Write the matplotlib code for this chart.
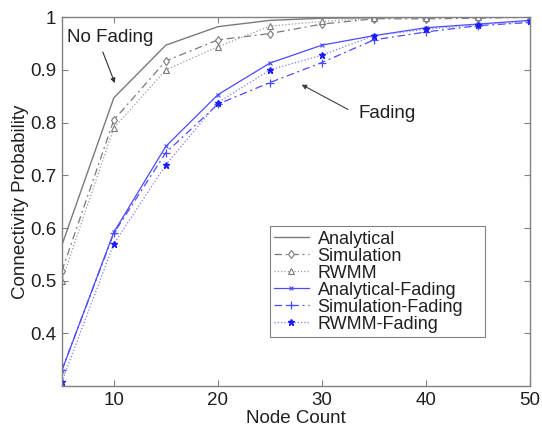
import matplotlib
matplotlib.use("Agg")
import matplotlib.pyplot as plt

node_count = [5, 10, 15, 20, 25, 30, 35, 40, 45, 50]
analytical = [0.567, 0.847, 0.947, 0.982, 0.994, 0.998, 0.999, 1.0, 1.0, 1.0]
simulation = [0.518, 0.805, 0.917, 0.957, 0.969, 0.987, 0.997, 0.997, 0.998, 1.0]
rwmm = [0.500, 0.790, 0.900, 0.944, 0.983, 0.992, 0.998, 0.999, 1.0, 1.0]
analytical_fading = [0.329, 0.592, 0.755, 0.853, 0.913, 0.947, 0.965, 0.980, 0.987, 0.994]
simulation_fading = [0.330, 0.590, 0.743, 0.835, 0.876, 0.914, 0.957, 0.972, 0.984, 0.990]
rwmm_fading = [0.308, 0.570, 0.720, 0.838, 0.900, 0.928, 0.965, 0.977, 0.986, 0.992]

x_ticks = [10, 20, 30, 40, 50]
y_ticks = [0.4, 0.5, 0.6, 0.7, 0.8, 0.9, 1.0]
y_tick_labels = ["0.4", "0.5", "0.6", "0.7", "0.8", "0.9", "1"]

plt.rcParams['font.family'] = ['Liberation Sans', 'DejaVu Sans']

fig = plt.figure(figsize=(5.42, 4.30), dpi=100)
ax = fig.add_axes([0.114, 0.102, 0.864, 0.858])

gray = '#7a7a7a'
lgray = '#9a9a9a'
blue = '#4a4aff'

ax.plot(node_count, analytical, '-', color=gray, lw=1.0, label='Analytical')
ax.plot(node_count, simulation, '-.', color=gray, lw=0.9, marker='d', ms=4.5,
        mfc='white', mec=gray, mew=0.8, dashes=(6, 3, 1.5, 3), label='Simulation')
ax.plot(node_count, rwmm, ':', color=lgray, lw=0.9, marker='^', ms=4.5,
        mfc='white', mec=gray, mew=0.8, label='RWMM')
ax.plot(node_count, analytical_fading, '-', color=blue, lw=0.9, marker='x', ms=3.5,
        mew=0.8, label='Analytical-Fading')
ax.plot(node_count, simulation_fading, '-.', color=blue, lw=0.9, marker='+', ms=6,
        mew=0.9, dashes=(6, 3, 1.5, 3), label='Simulation-Fading')
ax.plot(node_count, rwmm_fading, ':', color='#7a7aff', lw=0.9, marker='*', ms=5,
        mfc='#1a1aff', mec='#1a1aff', label='RWMM-Fading')

ax.set_xlim(5, 50)
ax.set_ylim(0.3, 1.0)
ax.set_xticks(x_ticks)
ax.set_yticks(y_ticks)
ax.set_yticklabels(y_tick_labels)
ax.tick_params(direction='in', length=4, colors='#808080', labelcolor='#202020',
               labelsize=13.5, top=True, right=True, width=0.8, pad=4)
for s in ax.spines.values():
    s.set_color('#808080')
    s.set_linewidth(1.0)

ax.set_xlabel('Node Count', fontsize=13.5, color='#202020', labelpad=1)
ax.set_ylabel('Connectivity Probability', fontsize=13.5, color='#202020', labelpad=1)

ax.text(9.66, 0.962, 'No Fading', ha='center', va='center', fontsize=13.5, color='#202020')
ax.annotate('', xy=(10.1, 0.875), xytext=(8.94, 0.934),
            arrowprops=dict(arrowstyle='-|>', color='#303030', lw=0.8,
                            mutation_scale=7, shrinkA=0, shrinkB=0))
ax.text(36.3, 0.817, 'Fading', ha='center', va='center', fontsize=13.5, color='#202020')
ax.annotate('', xy=(28.05, 0.872), xytext=(32.5, 0.825),
            arrowprops=dict(arrowstyle='-|>', color='#404040', lw=0.8,
                            mutation_scale=7, shrinkA=0, shrinkB=0))

leg = ax.legend(loc='lower left', bbox_to_anchor=(0.444, 0.133, 0.46, 0.355),
                mode='expand', fontsize=13, frameon=True, fancybox=False,
                edgecolor='#606060', handlelength=1.9, labelspacing=0.0,
                borderpad=0.25, handletextpad=0.5, borderaxespad=0)
leg.get_frame().set_linewidth(0.8)
for t in leg.get_texts():
    t.set_color('#202020')

fig.savefig('out.png', dpi=100)
